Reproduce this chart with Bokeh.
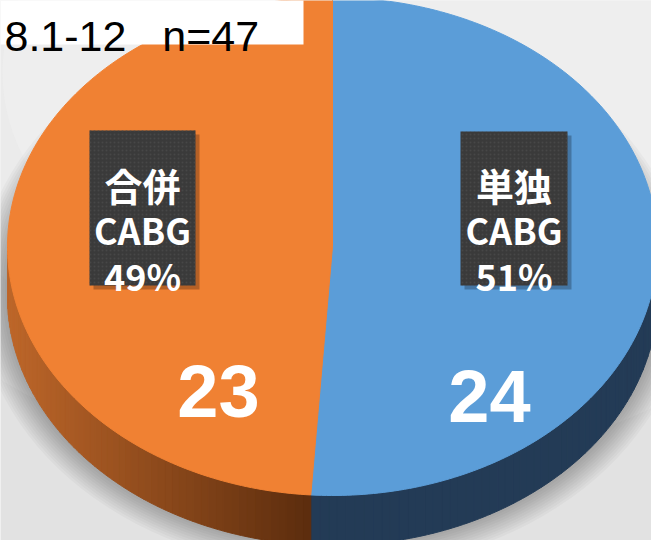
import numpy as np
from bokeh.plotting import figure
from bokeh.models import Range1d, ColumnDataSource
from bokeh.core.properties import value
from bokeh.embed import file_html
from bokeh.resources import INLINE

# ---------------- data ----------------
title_text = "8.1-12\u00a0\u00a0\u00a0n=47"
categories = ["単独 CABG", "合併 CABG"]
name_lines = ["単独", "合併"]
sub_lines = ["CABG", "CABG"]
counts = [24, 23]
percent_labels = ["51%", "49%"]

# ---------------- style / layout ----------------
top_colors = ["#5B9DD8", "#F08133"]
CX, CY, RX, RY, DEPTH = 340.0, 254.0, 325.0, 249.0, 50.0

p = figure(width=651, height=540, x_range=Range1d(8, 659), y_range=Range1d(548, 8),
           output_backend="svg", toolbar_location=None, min_border=0,
           x_axis_location=None, y_axis_location=None)
p.grid.visible = False
p.outline_line_color = None
p.background_fill_color = "#e2e2e2"
p.border_fill_color = "#e2e2e2"

# background soft light glow (top centre)
for i, (w, h, a) in enumerate([(1100, 800, 0.25), (900, 650, 0.25), (700, 500, 0.3)]):
    p.ellipse(x=[360], y=[80], width=[w], height=[h], fill_color="#f6f6f6",
              fill_alpha=a, line_color=None)

# drop shadow under the pie
for k in range(12):
    grow = 30 - k * 2.5
    p.ellipse(x=[CX], y=[CY + DEPTH - 5], width=[2 * (RX + grow)], height=[2 * (RY + grow)],
              fill_color="#000000", fill_alpha=0.028, line_color=None)

total = float(sum(counts))
bounds = np.concatenate([[0.0], np.cumsum(counts) / total]) * 2 * np.pi


def arc(t0, t1, n, dy=0.0):
    t = np.linspace(t0, t1, n)
    return list(CX + RX * np.sin(t)), list(CY - RY * np.cos(t) + dy)


# sides (visible lower half)
side_xs, side_ys, side_cols = [], [], []
for i in range(len(counts)):
    lo = max(bounds[i], np.pi / 2)
    hi = min(bounds[i + 1], 3 * np.pi / 2)
    if lo >= hi:
        continue
    nstrip = 60
    edges = np.linspace(lo, hi, nstrip + 1)
    for a, b in zip(edges[:-1], edges[1:]):
        tx, ty = arc(a, b, 4)
        bx, by = arc(b, a, 4, DEPTH)
        side_xs.append(tx + bx)
        side_ys.append(ty + by)
        if i == 0:
            side_cols.append("#233B56")
        else:
            xm = CX + RX * np.sin((a + b) / 2)
            f = np.clip((xm - 15) / (318 - 15), 0, 1)
            c0 = np.array([190, 103, 42])
            c1 = np.array([92, 45, 14])
            c = (c0 + (c1 - c0) * f).astype(int)
            side_cols.append("#%02x%02x%02x" % tuple(c))
p.patches(xs=side_xs, ys=side_ys, fill_color=side_cols, line_color=side_cols, line_width=1)

# top faces
top_xs, top_ys = [], []
for i in range(len(counts)):
    ax, ay = arc(bounds[i], bounds[i + 1], 200)
    top_xs.append([CX] + ax)
    top_ys.append([CY] + ay)
p.patches(xs=top_xs, ys=top_ys, fill_color=top_colors, line_color=top_colors, line_width=1)

# value labels
num_src = ColumnDataSource(dict(x=[497, 226], y=[403, 398], t=[str(c) for c in counts]))
p.text(x="x", y="y", text="t", source=num_src, text_color="white",
       text_font=value("Liberation Sans"), text_font_style="bold", text_font_size="74px",
       text_align="center", text_baseline="alphabetic")

# category boxes
box = ColumnDataSource(dict(l=[468, 97], r=[575, 203], t=[139, 138], b=[293, 293]))
p.quad(left=[468 + 4, 97 + 4], right=[575 + 4, 203 + 4], top=[139 + 4, 138 + 4],
       bottom=[293 + 4, 293 + 4], fill_color="#000000", fill_alpha=0.25, line_color=None)
p.quad(left="l", right="r", top="t", bottom="b", source=box, fill_color="#3a3a3a",
       line_color=None, hatch_pattern="dot", hatch_color="#4a4a4a", hatch_scale=4,
       hatch_alpha=0.8)

bx = [521.5, 150]
lab1 = ColumnDataSource(dict(x=bx, y=[192, 192], t=name_lines))
lab2 = ColumnDataSource(dict(x=bx, y=[236, 236], t=sub_lines))
lab3 = ColumnDataSource(dict(x=bx, y=[282, 282], t=percent_labels))
p.text(x="x", y="y", text="t", source=lab1, text_color="white",
       text_font=value("Noto Sans CJK JP"), text_font_style="bold", text_font_size="38px",
       text_align="center", text_baseline="alphabetic")
for src in (lab2, lab3):
    p.text(x="x", y="y", text="t", source=src, text_color="white",
           text_font=value("Noto Sans CJK JP"), text_font_style="bold", text_font_size="36px",
           text_align="center", text_baseline="alphabetic")

# title box
p.quad(left=[0], right=[311], top=[0], bottom=[52], fill_color="white", line_color=None)
p.text(x=[12], y=[43], text=[title_text], text_color="black",
       text_font=value("Liberation Sans"), text_font_size="43px",
       text_align="left", text_baseline="alphabetic")

open("out.html", "w").write(file_html(p, INLINE))
